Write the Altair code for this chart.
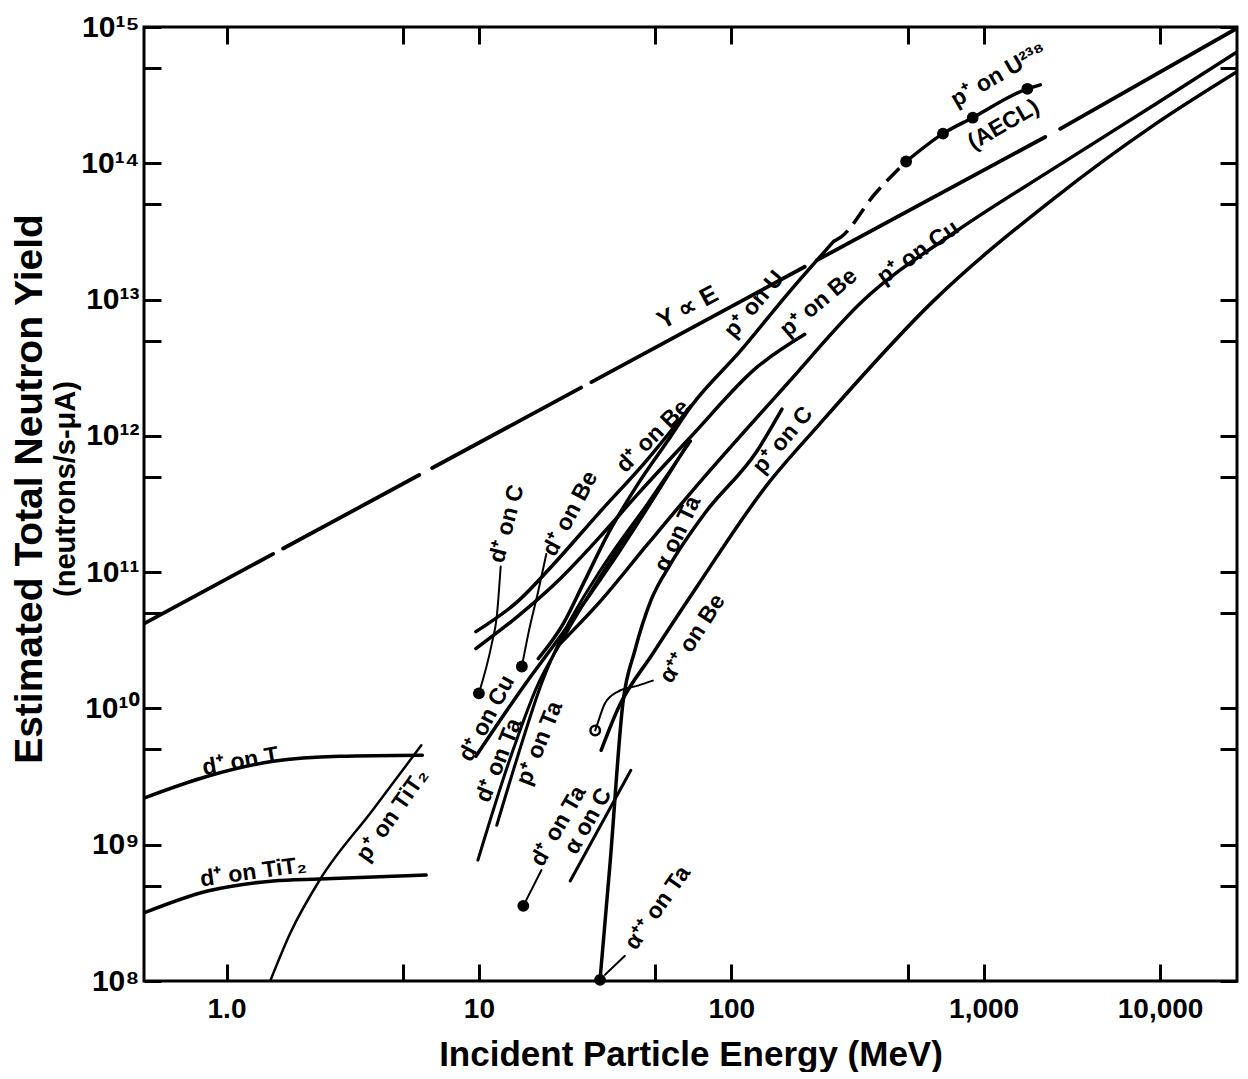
import altair as alt
import pandas as pd

FONT = "Liberation Sans"

# ---------------- curve data (E in MeV, Y in neutrons/s-uA) ----------------
# Y proportional to E (long-dash line, drawn as separate dash segments)
yE_seg = [1, 1, 2, 2, 3, 3, 4, 4, 5, 5, 6, 6]
yE_E = [0.471, 1.53, 1.676, 5.80, 6.53, 25.4, 27.9, 195.5, 218, 1754, 2010, 10090]
yE_Y = [4.19e10, 1.36e11, 1.49e11, 5.16e11, 5.81e11, 2.26e12, 2.48e12, 1.74e13,
        1.94e13, 1.56e14, 1.79e14, 9.8e14]

dT_E = [0.471, 0.841, 1.53, 2.81, 5.97]
dT_Y = [2.2e9, 3.18e9, 4.09e9, 4.45e9, 4.53e9]

dTiT2_E = [0.471, 0.841, 1.53, 2.34, 6.18]
dTiT2_Y = [3.16e8, 4.57e8, 5.42e8, 5.60e8, 5.99e8]

pTiT2_E = [1.49, 1.79, 2.34, 3.79, 5.91]
pTiT2_Y = [1.0e8, 2.25e8, 5.51e8, 1.79e9, 5.36e9]

dC_E = [10.0, 11.25, 11.77, 12.2]
dC_Y = [1.29e10, 2.99e10, 4.71e10, 1.10e11]

dBe1_E = [14.8, 15.7, 17.2, 18.5]
dBe1_Y = [2.03e10, 3.54e10, 7.31e10, 1.36e11]

dBe2_E = [9.73, 14.37, 19.4, 29.7, 46.7, 69.0]
dBe2_Y = [3.66e10, 6.18e10, 1.10e11, 2.68e11, 6.76e11, 1.65e12]

dCu_E = [9.73, 15.3, 21.0, 33.4, 67.1]
dCu_Y = [4.46e9, 1.52e10, 3.37e10, 1.15e11, 8.7e11]

dTa_E = [9.91, 13.1, 17.2, 21.0, 32.5, 69.0]
dTa_Y = [7.71e8, 3.96e9, 1.52e10, 2.99e10, 1.15e11, 9.16e11]

pTa_E = [11.77, 14.37, 17.7, 21.6, 29.7, 46.7]
pTa_Y = [1.39e9, 4.69e9, 1.52e10, 3.54e10, 9.73e10, 3.17e11]

pBe_E = [9.73, 14.37, 21.0, 29.7, 42.7, 69.0, 126.5, 195.5]
pBe_Y = [2.75e10, 4.80e10, 8.95e10, 1.76e11, 3.75e11, 9.8e11, 3.19e12, 5.56e12]

pU_E = [17.2, 21.6, 25.9, 32.5, 42.7, 56.0, 69.0, 108.5, 170.6, 254.5]
pU_Y = [2.32e10, 4.19e10, 8.2e10, 1.91e11, 4.44e11, 9.2e11, 1.63e12, 4.18e12,
        1.15e13, 2.67e13]

pU_dash_E = [254.5, 273.5, 369, 493]
pU_dash_Y = [2.67e13, 2.9e13, 5.9e13, 1.03e14]

pU238_E = [493, 690, 905, 1490, 1676]
pU238_Y = [1.03e14, 1.65e14, 2.16e14, 3.52e14, 3.76e14]

pCu_E = [21.0, 29.7, 46.7, 73.5, 166, 334, 776, 1919, 4755, 10090]
pCu_Y = [2.99e10, 5.87e10, 1.61e11, 4.37e11, 2.39e12, 9.87e12, 3.16e13, 9.29e13,
         2.69e14, 6.56e14]

pC_E = [30.5, 35.6, 48.9, 73.5, 138.6, 222, 630, 1919, 4755, 10090]
pC_Y = [4.93e9, 1.0e10, 2.53e10, 7.95e10, 4.37e11, 1.2e12, 9.7e12, 5.6e13,
        1.92e14, 4.69e14]

aTa_E = [30.2, 33.1, 37.2, 41.5, 48.0, 57.5, 78.3, 126.5, 158.8]
aTa_Y = [1.02e8, 7.33e8, 1.09e10, 2.66e10, 6.18e10, 1.15e11, 2.68e11, 7.74e11,
         1.57e12]

aC_E = [23.0, 40.0]
aC_Y = [5.42e8, 3.52e9]

dTa2_E = [15.0, 17.7]
dTa2_Y = [3.56e8, 6.52e8]

aBe_E = [28.9, 29.7, 31.6, 35.6, 42.7, 48.9]
aBe_Y = [6.9e9, 8.0e9, 1.09e10, 1.33e10, 1.47e10, 1.6e10]

aTa_lead_E = [31.6, 37.9]
aTa_lead_Y = [1.11e8, 1.53e8]

# ---------------- dots ----------------
dot_E = [10.0, 14.8, 15.0, 30.2, 493, 690, 905, 1490]
dot_Y = [1.29e10, 2.03e10, 3.56e8, 1.02e8, 1.03e14, 1.65e14, 2.16e14, 3.52e14]
open_E = [28.9]
open_Y = [6.9e9]

# ---------------- curve labels ----------------
lab_text = ["Y ∝ E", "p⁺ on U²³⁸", "(AECL)", "p⁺ on U", "p⁺ on Be", "p⁺ on Cu",
            "p⁺ on C", "d⁺ on Be", "d⁺ on Be", "d⁺ on C", "α on Ta", "α⁺⁺ on Be",
            "d⁺ on Cu", "d⁺ on Ta", "p⁺ on Ta", "d⁺ on Ta", "α on C", "α⁺⁺ on Ta",
            "d⁺ on T", "d⁺ on TiT₂", "p⁺ on TiT₂"]
lab_E = [67.1, 1146, 1199, 123.2, 222, 550, 160, 48.9, 23.0, 12.9, 61.3, 70.2,
         10.75, 12.0, 17.4, 20.65, 27.1, 51.1, 1.135, 1.277, 4.54]
lab_Y = [8.77e12, 4.45e14, 1.92e14, 9.22e12, 9.5e12, 2.22e13, 9.3e11, 9.97e11,
         2.68e11, 2.26e11, 1.91e11, 3.25e10, 8.45e9, 4.16e9, 5.55e9, 1.37e9,
         1.49e9, 3.44e8, 4.09e9, 6.3e8, 1.65e9]
lab_angle = [332, 330, 330, 310, 320, 325, 310, 315, 298, 285, 295, 303,
             298, 292, 292, 300, 300, 305, 350, 352, 305]
lab_size = [25, 23, 23, 23, 23, 23, 23, 23, 23, 23, 23, 23,
            23, 23, 23, 23, 23, 23, 23, 23, 23]

# ---------------- axis ticks ----------------
x_ticks = [1, 5, 10, 50, 100, 500, 1000, 5000]
y_ticks = [1e8, 5e8, 1e9, 5e9, 1e10, 5e10, 1e11, 5e11, 1e12, 5e12, 1e13, 5e13,
           1e14, 5e14, 1e15]

# ---------------- build tables ----------------
curves = [
    ("dT", dT_E, dT_Y, 3.5), ("dTiT2", dTiT2_E, dTiT2_Y, 3.5),
    ("pTiT2", pTiT2_E, pTiT2_Y, 2.5), ("dC", dC_E, dC_Y, 2),
    ("dBe1", dBe1_E, dBe1_Y, 2), ("dBe2", dBe2_E, dBe2_Y, 3.5),
    ("dCu", dCu_E, dCu_Y, 3.5), ("dTa", dTa_E, dTa_Y, 3),
    ("pTa", pTa_E, pTa_Y, 3), ("pBe", pBe_E, pBe_Y, 3.5),
    ("pU", pU_E, pU_Y, 3.5), ("pU238", pU238_E, pU238_Y, 3.5),
    ("pCu", pCu_E, pCu_Y, 3.5), ("pC", pC_E, pC_Y, 3.5),
    ("aTa", aTa_E, aTa_Y, 3.5), ("aC", aC_E, aC_Y, 3),
    ("dTa2", dTa2_E, dTa2_Y, 2), ("aBe", aBe_E, aBe_Y, 2),
    ("aTaLead", aTa_lead_E, aTa_lead_Y, 2),
]
rows = []
for name, es, ys, w in curves:
    for i, (e, y) in enumerate(zip(es, ys)):
        rows.append({"series": name, "E": e, "Y": y, "i": i, "w": w})
for i, (s, e, y) in enumerate(zip(yE_seg, yE_E, yE_Y)):
    rows.append({"series": f"yE{s}", "E": e, "Y": y, "i": i, "w": 3.8})
df_lines = pd.DataFrame(rows)

df_dash = pd.DataFrame({"E": pU_dash_E, "Y": pU_dash_Y, "i": range(len(pU_dash_E))})
df_dots = pd.DataFrame({"E": dot_E, "Y": dot_Y})
df_open = pd.DataFrame({"E": open_E, "Y": open_Y})
df_lab = pd.DataFrame({"E": lab_E, "Y": lab_Y, "t": lab_text, "a": lab_angle,
                       "s": lab_size})

xdom = [0.471, 10090]
ydom = [1e8, 1e15]
xs = alt.Scale(type="log", domain=xdom, nice=False)
ys_ = alt.Scale(type="log", domain=ydom, nice=False)

x_label_expr = ("datum.value == 1 ? '1.0' : datum.value == 10 ? '10' : "
                "datum.value == 100 ? '100' : datum.value == 1000 ? '1,000' : "
                "datum.value == 5000 ? '10,000' : ''")
y_label_expr = ("abs(log(datum.value)/LN10 - round(log(datum.value)/LN10)) < 0.01 ? "
                "'10' + ['⁸','⁹','¹⁰','¹¹','¹²','¹³','¹⁴','¹⁵'][round(log(datum.value)/LN10) - 8] : ''")

TICK = 17
x_axis = alt.Axis(orient="bottom", values=x_ticks, labelExpr=x_label_expr,
                  tickSize=TICK, offset=-TICK, domain=False, grid=False,
                  tickWidth=3, tickColor="black", labelFlush=False,
                  labelFont=FONT, labelFontSize=28, labelFontWeight="bold",
                  labelColor="black", labelPadding=14,
                  title="Incident Particle Energy (MeV)", titleFont=FONT,
                  titleFontSize=35, titleFontWeight="bold", titleColor="black",
                  titlePadding=14)
y_axis = alt.Axis(orient="left", values=y_ticks, labelExpr=y_label_expr,
                  tickSize=TICK, offset=-TICK, domain=False, grid=False,
                  tickWidth=3, tickColor="black", labelFlush=False,
                  labelFont=FONT, labelFontSize=30, labelFontWeight="bold",
                  labelColor="black", labelPadding=5, title=None)

X = alt.X("E:Q", scale=xs, axis=x_axis)
Y = alt.Y("Y:Q", scale=ys_, axis=y_axis)

lines = alt.Chart(df_lines).mark_line(color="black", interpolate="monotone",
                                      clip=True, strokeCap="round").encode(
    x=X, y=Y, detail="series:N", order="i:Q",
    strokeWidth=alt.StrokeWidth("w:Q", scale=None))

dashed = alt.Chart(df_dash).mark_line(color="black", interpolate="monotone",
                                      strokeWidth=3.5, strokeDash=[18, 9]).encode(
    x="E:Q", y="Y:Q", order="i:Q")

dots = alt.Chart(df_dots).mark_circle(color="black", size=140, opacity=1).encode(
    x="E:Q", y="Y:Q")
opens = alt.Chart(df_open).mark_point(color="black", size=90, strokeWidth=2.5,
                                      filled=False, opacity=1).encode(
    x="E:Q", y="Y:Q")

labels = alt.Chart(df_lab).mark_text(font=FONT, fontWeight="bold",
                                     color="black", align="center",
                                     baseline="middle").encode(
    x="E:Q", y="Y:Q", text="t:N", angle=alt.Angle("a:Q", scale=None),
    size=alt.Size("s:Q", scale=None))

main = alt.layer(lines, dashed, dots, opens, labels)

# second layer only for the inward ticks on top and right frame edges
tick_layer = alt.Chart(df_dots).mark_point(opacity=0).encode(
    x=alt.X("E:Q", scale=xs,
            axis=alt.Axis(orient="top", values=x_ticks, labels=False,
                          tickSize=TICK, offset=-TICK, domain=False, grid=False,
                          tickWidth=3, tickColor="black", title=None)),
    y=alt.Y("Y:Q", scale=ys_,
            axis=alt.Axis(orient="right", values=y_ticks, labels=False,
                          tickSize=TICK, offset=-TICK, domain=False, grid=False,
                          tickWidth=3, tickColor="black", title=None)))

chart = alt.layer(main, tick_layer).resolve_scale(
    x="independent", y="independent"
).properties(
    width=1093, height=954,
    padding={"left": 2, "top": 4, "right": 0, "bottom": 0},
    background="white",
    title=alt.TitleParams(text="Estimated Total Neutron Yield",
                          subtitle="(neutrons/s-μA)", orient="left",
                          anchor="middle", font=FONT, fontSize=39,
                          fontWeight="bold", color="black",
                          subtitleFont=FONT, subtitleFontSize=29,
                          subtitleFontWeight="bold", subtitleColor="black",
                          subtitlePadding=2, offset=0, dx=15),
).configure_view(stroke="black", strokeWidth=3)

chart.save("out.html", embed_options={"renderer": "svg", "actions": False})
